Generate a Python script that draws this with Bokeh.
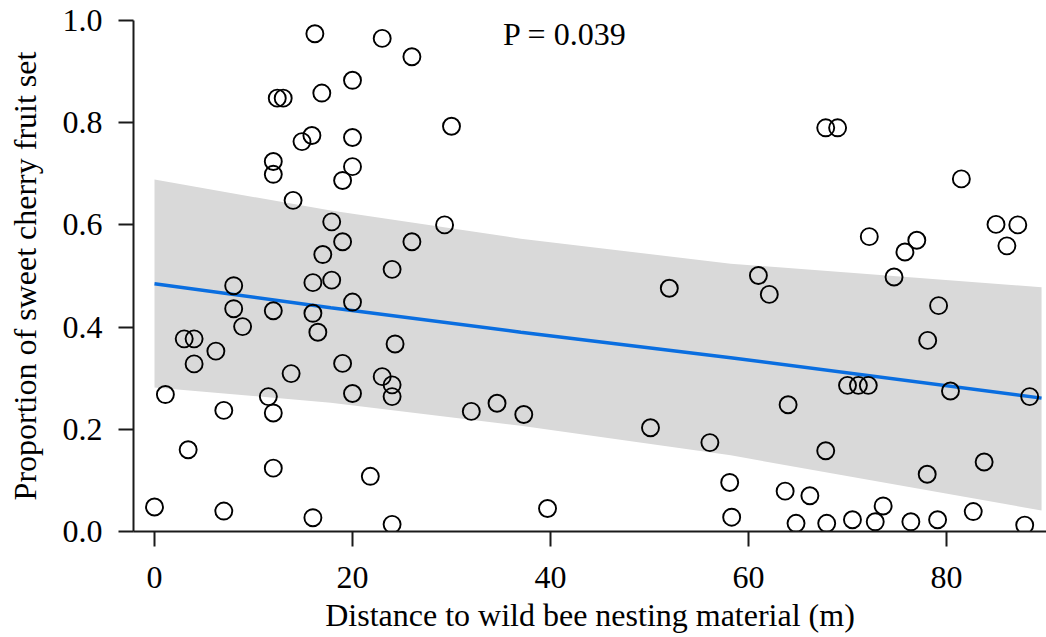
from bokeh.plotting import figure
from bokeh.models import Range1d, Label, FixedTicker, CustomJSTickFormatter
from bokeh.embed import file_html
from bokeh.resources import INLINE

# Observed points: distance (m) and proportion of fruit set
distance = [0.0, 1.1, 3.0, 4.0, 4.0, 3.4, 6.2, 7.0, 7.0, 8.0, 8.0, 8.9, 11.5, 12.0, 12.0,
            12.0, 12.0, 12.0, 12.4, 13.0, 13.8, 14.0, 14.9, 15.9, 16.2, 16.0, 16.0, 16.0,
            16.5, 16.9, 17.0, 17.9, 17.9, 19.0, 19.0, 19.0, 20.0, 20.0, 20.0, 20.0, 20.0,
            21.8, 23.0, 23.0, 24.0, 24.3, 24.0, 24.0, 24.0, 26.0, 26.0, 29.3, 30.0, 32.0,
            34.6, 37.3, 39.7, 50.1, 52.0, 56.1, 58.1, 58.3, 61.0, 62.1, 63.7, 64.0, 64.8,
            66.2, 67.8, 69.0, 67.8, 67.9, 70.0, 71.1, 72.1, 70.5, 72.2, 72.8, 73.6, 74.7,
            75.8, 77.0, 76.4, 78.1, 78.05, 79.1, 79.2, 80.4, 81.5, 82.7, 83.8, 85.0, 87.2,
            86.1, 87.9, 88.4]
fruit_set = [0.048, 0.268, 0.377, 0.377, 0.328, 0.160, 0.353, 0.237, 0.040, 0.481, 0.436,
             0.401, 0.264, 0.232, 0.432, 0.124, 0.724, 0.699, 0.848, 0.848, 0.309, 0.648,
             0.763, 0.775, 0.974, 0.487, 0.427, 0.027, 0.390, 0.858, 0.542, 0.606, 0.492,
             0.687, 0.567, 0.329, 0.883, 0.771, 0.714, 0.449, 0.270, 0.108, 0.965, 0.303,
             0.513, 0.367, 0.287, 0.264, 0.014, 0.929, 0.567, 0.600, 0.793, 0.235, 0.251,
             0.229, 0.045, 0.203, 0.476, 0.174, 0.096, 0.028, 0.501, 0.464, 0.079, 0.248,
             0.016, 0.070, 0.790, 0.790, 0.158, 0.016, 0.286, 0.286, 0.286, 0.023, 0.577,
             0.019, 0.050, 0.498, 0.547, 0.570, 0.019, 0.374, 0.112, 0.023, 0.442, 0.275,
             0.690, 0.039, 0.136, 0.601, 0.600, 0.559, 0.0125, 0.264]

# Fitted line and confidence band
fit_x = [0.0, 17.8, 37.0, 58.2, 89.6]
fit_y = [0.485, 0.438, 0.390, 0.340, 0.261]
band_upper = [0.689, 0.628, 0.573, 0.524, 0.478]
band_lower = [0.282, 0.252, 0.207, 0.149, 0.041]

x_ticks = [0, 20, 40, 60, 80]
y_ticks = [0.0, 0.2, 0.4, 0.6, 0.8, 1.0]
p_text = "P = 0.039"
x_title = "Distance to wild bee nesting material (m)"
y_title = "Proportion of sweet cherry fruit set"

FONT = "Liberation Serif"
FS = "32px"

p = figure(width=1046, height=637, output_backend="svg", toolbar_location=None,
           x_range=Range1d(-2.121, 90.1), y_range=Range1d(0, 1),
           min_border_left=133, min_border_right=0, min_border_top=20,
           min_border_bottom=106)
p.grid.visible = False
p.outline_line_color = None
p.background_fill_color = "white"

p.varea(x=fit_x, y1=band_lower, y2=band_upper, fill_color="#d9d9d9", fill_alpha=1.0)
p.line(x=fit_x, y=fit_y, line_color="#0a6ee0", line_width=3.5)
p.scatter(x=distance, y=fruit_set, size=17, fill_color=None, line_color="black",
          line_width=1.9)

p.add_layout(Label(x=35.2, y=0.9735, text=p_text, text_font=FONT, text_font_size=FS,
                   text_color="black", text_baseline="alphabetic", text_align="left"))

for ax in (p.xaxis[0], p.yaxis[0]):
    ax.axis_line_width = 2
    ax.axis_line_color = "#1a1a1a"
    ax.major_tick_line_width = 2
    ax.major_tick_line_color = "#1a1a1a"
    ax.major_tick_out = 15
    ax.major_tick_in = 0
    ax.minor_tick_out = 0
    ax.minor_tick_in = 0
    ax.major_label_text_font = FONT
    ax.major_label_text_font_size = FS
    ax.major_label_text_color = "black"
    ax.axis_label_text_font = FONT
    ax.axis_label_text_font_size = FS
    ax.axis_label_text_font_style = "normal"
    ax.axis_label_text_color = "black"

p.xaxis[0].ticker = FixedTicker(ticks=x_ticks)
p.yaxis[0].ticker = FixedTicker(ticks=y_ticks)
p.yaxis[0].formatter = CustomJSTickFormatter(code="return tick.toFixed(1);")
p.xaxis[0].axis_label = x_title
p.yaxis[0].axis_label = y_title
p.xaxis[0].major_label_standoff = 20
p.xaxis[0].axis_label_standoff = 6
p.yaxis[0].major_label_standoff = 16
p.yaxis[0].axis_label_standoff = 17

open("out.html", "w").write(file_html(p, INLINE))
